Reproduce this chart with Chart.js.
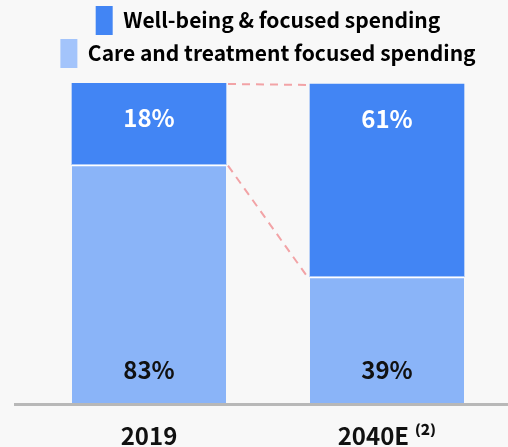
<!DOCTYPE html>
<html>
<head>
<meta charset="utf-8">
<script src="https://cdn.jsdelivr.net/npm/chart.js@4"></script>
<style>
  html, body { margin: 0; padding: 0; background: #f8f8f8; }
  #wrap { width: 508px; height: 447px; }
</style>
</head>
<body>
<div id="wrap"><canvas id="c"></canvas></div>
<script>
// ---------- data ----------
const categories  = ['2019', '2040E ⁽²⁾'];
const seriesNames = ['Care and treatment focused spending', 'Well-being & focused spending'];
const careValues  = [74.5, 39.5];   // bar heights as drawn
const wellValues  = [25.5, 60.2];
const careLabels  = ['83%', '39%']; // printed values
const wellLabels  = ['18%', '61%'];

const FONT = '"Noto Sans CJK SC", "Noto Sans", sans-serif';
const DARK = '#4285f4';
const LIGHT = '#8ab4f8';

// ---------- plugins ----------
// push the plot down a bit under the legend
const legendGap = {
  id: 'legendGap',
  beforeInit(chart) {
    const fit = chart.legend.fit;
    chart.legend.fit = function () {
      fit.bind(chart.legend)();
      this.height += 5;
    };
  }
};

// axis line, dashed connectors and value labels
const overlay = {
  id: 'overlay',
  afterDatasetsDraw(chart) {
    const ctx = chart.ctx;
    const area = chart.chartArea;
    const care = chart.getDatasetMeta(0).data;
    const well = chart.getDatasetMeta(1).data;

    ctx.save();
    // baseline
    ctx.strokeStyle = '#b8b8b8';
    ctx.lineWidth = 3;
    ctx.beginPath();
    ctx.moveTo(area.left - 16, area.bottom + 1.5);
    ctx.lineTo(chart.width, area.bottom + 1.5);
    ctx.stroke();

    // connectors between the two bars
    ctx.strokeStyle = '#f2a3a6';
    ctx.lineWidth = 2;
    ctx.setLineDash([8, 6]);
    [well, care].forEach(bars => {
      const a = bars[0], b = bars[1];
      ctx.beginPath();
      ctx.moveTo(a.x + a.width / 2 + 2, a.y + 1);
      ctx.lineTo(b.x - b.width / 2 - 2, b.y + 1);
      ctx.stroke();
    });
    ctx.setLineDash([]);

    // labels
    ctx.font = 'bold 24px ' + FONT;
    ctx.textAlign = 'center';
    ctx.textBaseline = 'middle';
    well.forEach((el, i) => {
      ctx.fillStyle = '#ffffff';
      ctx.fillText(wellLabels[i], el.x, el.y + 35);
    });
    care.forEach((el, i) => {
      ctx.fillStyle = '#111111';
      ctx.fillText(careLabels[i], el.x, el.base - 33);
    });
    ctx.restore();
  }
};

// ---------- chart ----------
new Chart(document.getElementById('c'), {
  type: 'bar',
  data: {
    labels: categories,
    datasets: [
      {
        label: seriesNames[0],
        data: careValues,
        backgroundColor: LIGHT,
        borderColor: '#ffffff',
        borderWidth: { top: 2, left: 0, right: 0, bottom: 0 },
        borderSkipped: false,
        barThickness: 154
      },
      {
        label: seriesNames[1],
        data: wellValues,
        backgroundColor: DARK,
        borderWidth: 0,
        barThickness: 154
      }
    ]
  },
  options: {
    responsive: true,
    maintainAspectRatio: false,
    animation: false,
    layout: { padding: { top: 2, left: 30, right: 2, bottom: 0 } },
    plugins: {
      legend: {
        position: 'top',
        reverse: true,
        labels: {
          font: { family: FONT, size: 21, weight: 'bold' },
          color: '#111111',
          boxWidth: 17,
          boxHeight: 29,
          padding: 4,
          generateLabels(chart) {
            return chart.data.datasets.map((ds, i) => ({
              text: ds.label,
              fillStyle: i === 0 ? '#a3c4fb' : DARK,
              strokeStyle: 'transparent',
              lineWidth: 0,
              datasetIndex: i
            }));
          }
        }
      },
      tooltip: { enabled: false }
    },
    scales: {
      x: {
        stacked: true,
        grid: { display: false, drawTicks: false },
        border: { display: false },
        ticks: {
          color: '#111111',
          font: { family: FONT, size: 24, weight: 'bold' },
          padding: 18
        },
        afterFit(scale) { scale.height = 44; }
      },
      y: {
        stacked: true,
        display: false,
        min: 0,
        max: 100
      }
    }
  },
  plugins: [legendGap, overlay]
});
</script>
</body>
</html>
